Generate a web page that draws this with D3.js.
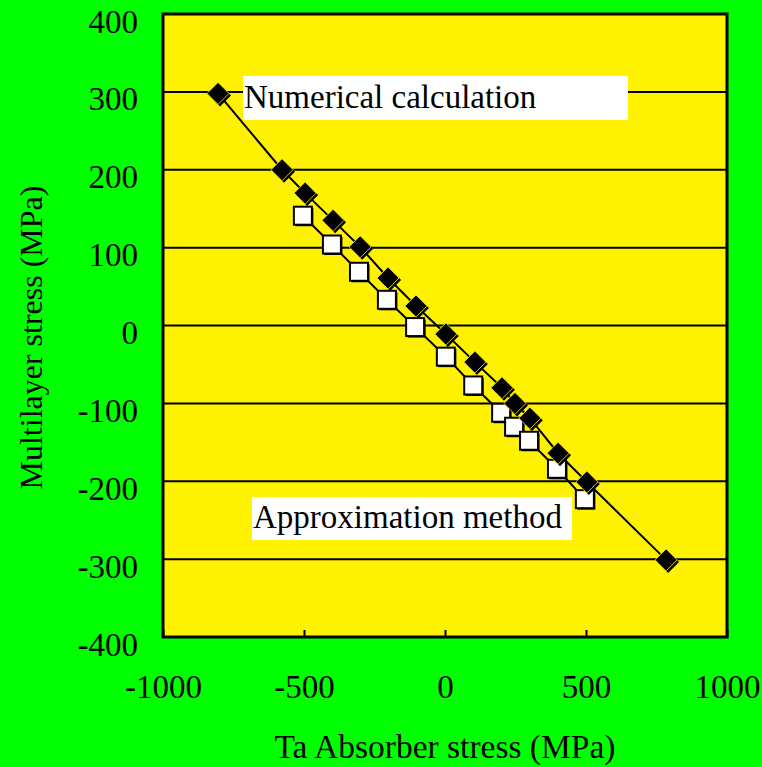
<!DOCTYPE html>
<html>
<head>
<meta charset="utf-8">
<script src="https://cdn.jsdelivr.net/npm/d3@7"></script>
<style>
  body { margin: 0; background: #00ff00; }
  svg { display: block; }
  text { font-family: "Liberation Serif", "Times New Roman", serif; }
</style>
</head>
<body>
<div id="chart"></div>
<script>
// Numerical calculation (filled diamonds)
const numX = [-805, -578, -496, -397, -301, -202, -103, 3, 106, 202, 248, 301, 401, 503, 784];
const numY = [298, 200, 170, 135, 101, 61, 25, -11, -47, -80, -100, -119, -164, -201, -301];
// Approximation method (open squares)
const appX = [-504, -401, -305, -206, -106, 3, 100, 199, 245, 298, 397, 496];
const appY = [141, 104, 69, 33, -2, -40, -77, -112, -130, -148, -184, -223];

const xTicks = [-1000, -500, 0, 500, 1000];
const yTicks = [-400, -300, -200, -100, 0, 100, 200, 300, 400];

const FONT = "Liberation Serif, Times New Roman, serif";
const width = 762, height = 767;
const margin = {top: 14, right: 35, bottom: 130, left: 163};
const innerW = width - margin.left - margin.right;
const innerH = height - margin.top - margin.bottom;

const svg = d3.select("#chart").append("svg")
    .attr("width", width)
    .attr("height", height);

svg.append("rect").attr("width", width).attr("height", height).attr("fill", "#00ff00");

const g = svg.append("g").attr("transform", `translate(${margin.left},${margin.top})`);

const x = d3.scaleLinear().domain([-1000, 1000]).range([0, innerW]);
const y = d3.scaleLinear().domain([-400, 400]).range([innerH, 0]);

g.append("rect")
    .attr("width", innerW)
    .attr("height", innerH)
    .attr("fill", "#fff200");

// gridlines
g.selectAll("line.grid").data(yTicks.slice(1, -1)).enter()
    .append("line")
    .attr("class", "grid")
    .attr("x1", 0).attr("x2", innerW)
    .attr("y1", d => y(d)).attr("y2", d => y(d))
    .attr("stroke", "#000").attr("stroke-width", 2);

// x axis (inward ticks)
const xAxis = g.append("g")
    .attr("transform", `translate(0,${innerH})`)
    .call(d3.axisBottom(x).tickValues(xTicks).tickFormat(d => String(d))
        .tickSizeInner(-7).tickSizeOuter(0));
xAxis.select(".domain").remove();
xAxis.selectAll("line").attr("stroke", "#000").attr("stroke-width", 2);
xAxis.selectAll("text")
    .attr("y", 61).attr("dy", null)
    .attr("font-size", 33).attr("fill", "#000").attr("font-family", FONT);

// y axis labels
const yAxis = g.append("g")
    .call(d3.axisLeft(y).tickValues(yTicks).tickFormat(d => String(d)).tickSize(0).tickPadding(25));
yAxis.select(".domain").remove();
yAxis.selectAll("text")
    .attr("dy", 18)
    .attr("font-size", 33).attr("fill", "#000").attr("font-family", FONT);

// frame
g.append("rect")
    .attr("width", innerW)
    .attr("height", innerH)
    .attr("fill", "none")
    .attr("stroke", "#000")
    .attr("stroke-width", 3);

const line = d3.line().x(d => x(d[0])).y(d => y(d[1]));
const numData = numX.map((v, i) => [v, numY[i]]);
const appData = appX.map((v, i) => [v, appY[i]]);

g.append("path").datum(appData).attr("d", line)
    .attr("fill", "none").attr("stroke", "#000").attr("stroke-width", 2);
g.append("path").datum(numData).attr("d", line)
    .attr("fill", "none").attr("stroke", "#000").attr("stroke-width", 2);

// squares
const sq = 18;
const sqG = g.selectAll("g.sq").data(appData).enter().append("g")
    .attr("transform", d => `translate(${x(d[0])},${y(d[1])})`);
sqG.append("rect")
    .attr("x", -sq / 2 + 1.5).attr("y", -sq / 2 + 1.5)
    .attr("width", sq).attr("height", sq).attr("fill", "#000");
sqG.append("rect")
    .attr("x", -sq / 2).attr("y", -sq / 2)
    .attr("width", sq).attr("height", sq)
    .attr("fill", "#fff").attr("stroke", "#000").attr("stroke-width", 2);

// diamonds
const dm = 11;
const diamond = `M0,${-dm}L${dm},0L0,${dm}L${-dm},0Z`;
const dmG = g.selectAll("g.dm").data(numData).enter().append("g")
    .attr("transform", d => `translate(${x(d[0])},${y(d[1])})`);
dmG.append("path").attr("d", diamond).attr("transform", "translate(2,2)").attr("fill", "#000");
dmG.append("path").attr("d", diamond)
    .attr("fill", "#000").attr("stroke", "#fff200").attr("stroke-width", 0.8);

// labels with white boxes
svg.append("rect").attr("x", 243).attr("y", 76).attr("width", 385).attr("height", 44).attr("fill", "#fff");
svg.append("text").attr("x", 244).attr("y", 108).attr("font-size", 33)
    .attr("font-family", FONT).text("Numerical calculation");
svg.append("rect").attr("x", 252).attr("y", 497).attr("width", 320).attr("height", 43).attr("fill", "#fff");
svg.append("text").attr("x", 253).attr("y", 528).attr("font-size", 33)
    .attr("font-family", FONT).text("Approximation method");

// axis titles
svg.append("text")
    .attr("x", margin.left + innerW / 2).attr("y", 758)
    .attr("text-anchor", "middle").attr("font-size", 33.5).attr("font-family", FONT)
    .text("Ta Absorber stress (MPa)");
svg.append("text")
    .attr("transform", `translate(42,${margin.top + innerH / 2 + 12}) rotate(-90)`)
    .attr("text-anchor", "middle").attr("font-size", 32).attr("font-family", FONT)
    .text("Multilayer stress (MPa)");
</script>
</body>
</html>
